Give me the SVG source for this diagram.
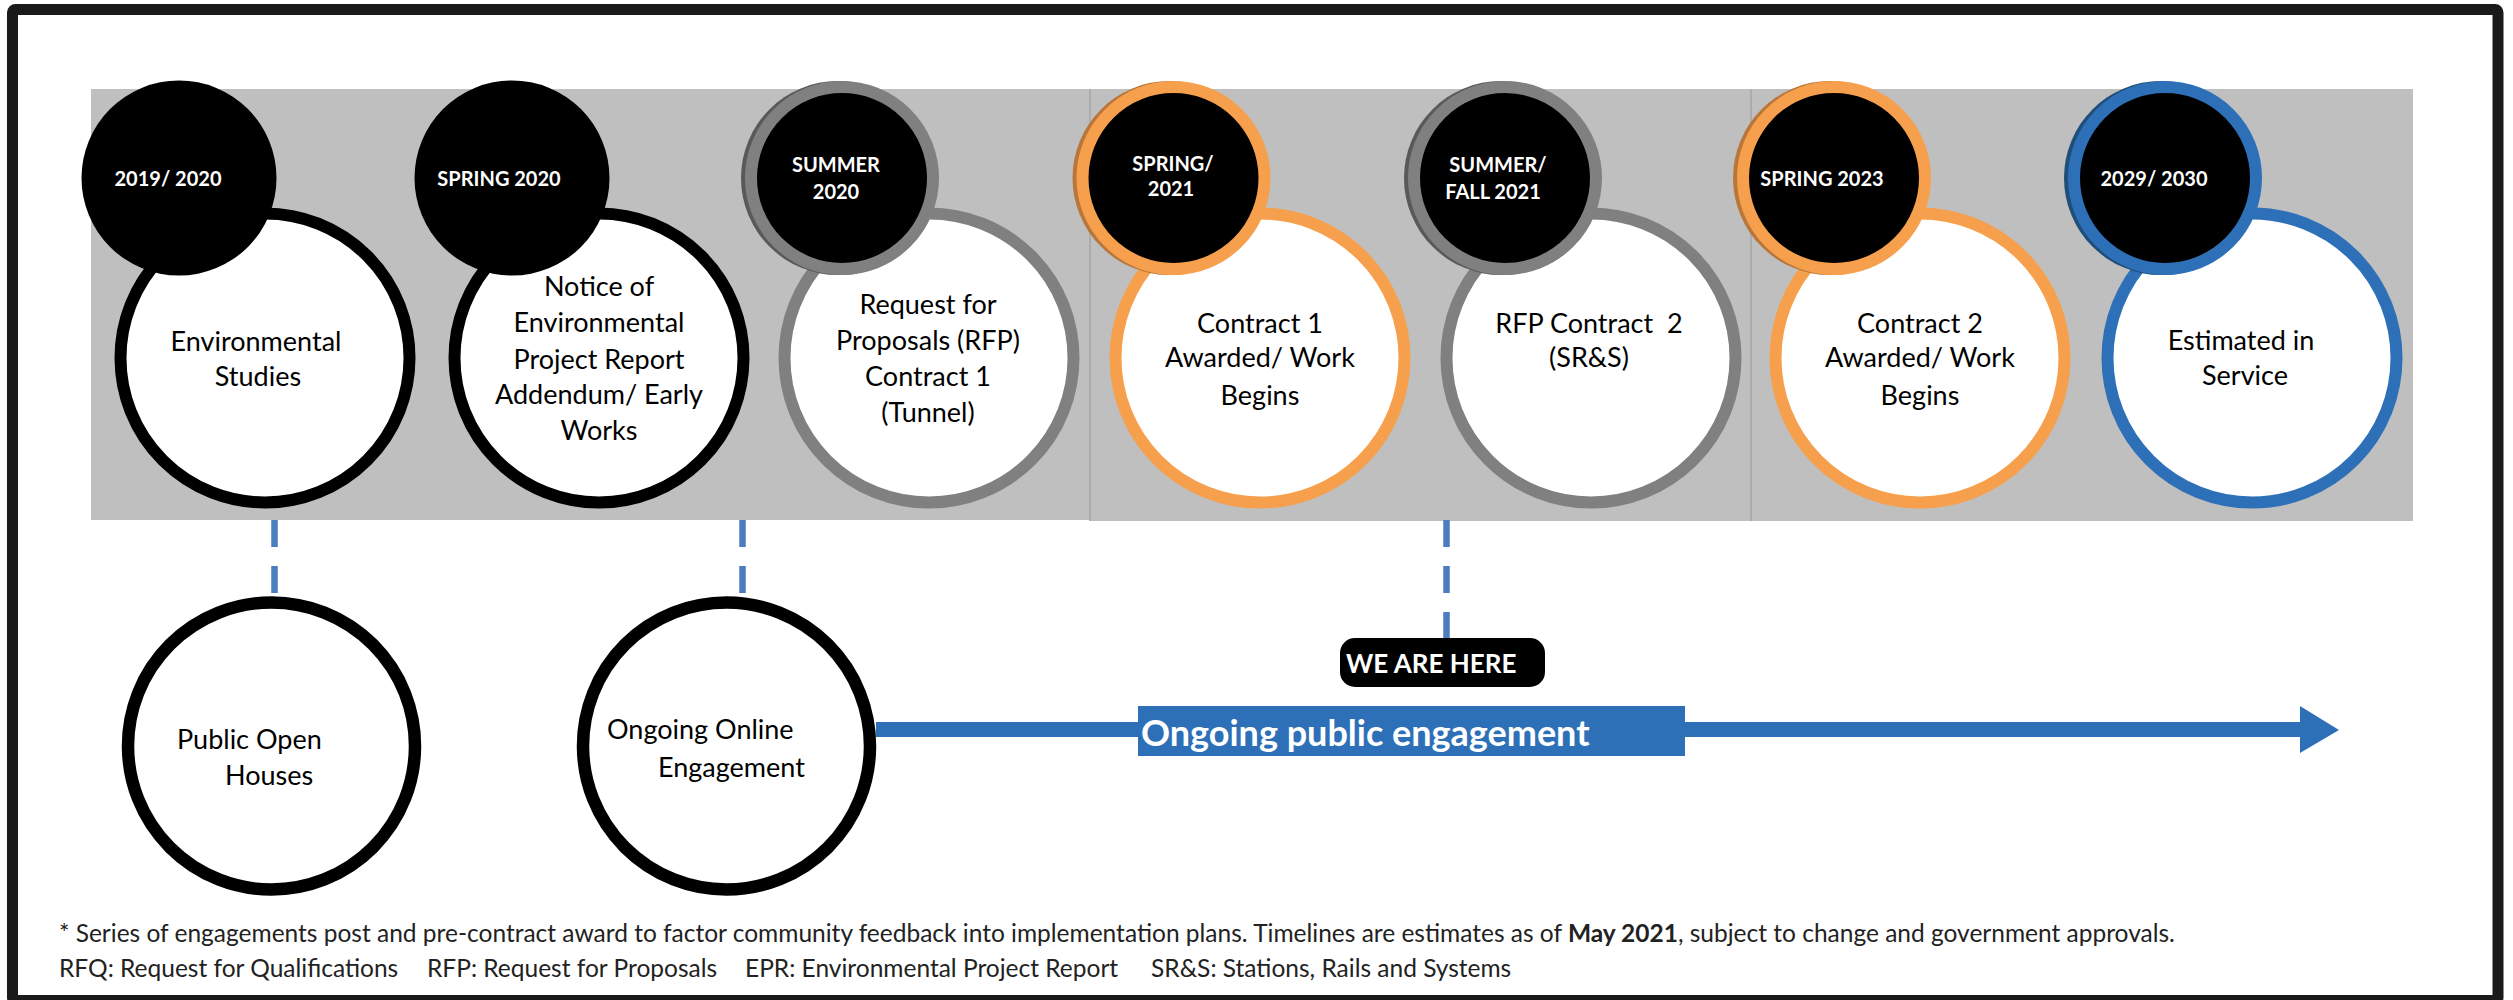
<svg xmlns="http://www.w3.org/2000/svg" width="2513" height="1000" viewBox="0 0 2513 1000">
<defs>
<style>
.band{fill:#BFBFBF}
.div{stroke:#A6A6A6;stroke-width:1.5}
.date{fill:#000}
.dt{font-family:Lato,"Open Sans",sans-serif;font-weight:bold;font-size:20px;fill:#fff;text-anchor:middle}
.big{fill:#fff;stroke-width:12}
.bt{font-family:Lato,"Open Sans",sans-serif;font-size:27px;fill:#000;text-anchor:middle}
.low{fill:#fff;stroke:#000;stroke-width:12.5}
.lt{font-family:Lato,"Open Sans",sans-serif;font-size:27px;fill:#000}
.dash{stroke:#4A7EBF;stroke-width:6.5;stroke-dasharray:27 19;fill:none}
.blk{stroke:#000}
.gry{stroke:#808080}
.org{stroke:#F6A04D}
.blu{stroke:#2E70B8}
.fn{font-family:Lato,"Open Sans",sans-serif;font-size:24.5px;fill:#222}
</style>
</defs>
<rect width="2513" height="1000" fill="#fff"/>
<rect x="12.5" y="9.5" width="2485.5" height="991" rx="3" fill="none" stroke="#1a1a1a" stroke-width="11"/>

<g id="band">
<rect class="band" x="91" y="89" width="999" height="431"/>
<rect class="band" x="1090" y="89" width="661" height="432"/>
<rect class="band" x="1751" y="89" width="662" height="432"/>
<line class="div" x1="1090" y1="89" x2="1090" y2="521"/>
<line class="div" x1="1751" y1="89" x2="1751" y2="521"/>
</g>

<g id="connectors">
<line class="dash" x1="274.5" y1="520" x2="274.5" y2="594"/>
<line class="dash" x1="742.5" y1="520" x2="742.5" y2="594"/>
<line class="dash" x1="1446.5" y1="520" x2="1446.5" y2="639"/>
<rect x="876" y="722" width="1425" height="15" fill="#2E70B8"/>
<polygon points="2300,706 2339,730 2300,753" fill="#2E70B8"/>
</g>

<g id="m1">
<circle class="big blk" cx="265" cy="358" r="144.5"/>
<circle class="date" cx="179" cy="178" r="97.5"/>
<text class="dt" x="168" y="186">2019/ 2020</text>
<text class="bt" x="256" y="351">Environmental</text>
<text class="bt" x="258" y="386">Studies</text>
</g>

<g id="m2">
<circle class="big blk" cx="599" cy="358" r="144.5"/>
<circle class="date" cx="512" cy="178" r="97.5"/>
<text class="dt" x="499" y="186">SPRING 2020</text>
<text class="bt" x="599" y="296">Notice of</text>
<text class="bt" x="599" y="332">Environmental</text>
<text class="bt" x="599" y="369">Project Report</text>
<text class="bt" x="599" y="404">Addendum/ Early</text>
<text class="bt" x="599" y="440">Works</text>
</g>

<g id="m3">
<circle class="big gry" cx="929" cy="358" r="144.5"/>
<circle cx="838" cy="178" r="97" fill="#595959"/>
<circle class="date gry" cx="842" cy="178" r="91" stroke-width="12"/>
<text class="dt" x="836" y="172">SUMMER</text>
<text class="dt" x="836" y="199">2020</text>
<text class="bt" x="928" y="314">Request for</text>
<text class="bt" x="928" y="350">Proposals (RFP)</text>
<text class="bt" x="928" y="386">Contract 1</text>
<text class="bt" x="928" y="422">(Tunnel)</text>
</g>

<g id="m4">
<circle class="big org" cx="1260" cy="358" r="144.5"/>
<circle cx="1169.5" cy="178" r="97" fill="#B8763A"/>
<circle class="date org" cx="1173.5" cy="178" r="91" stroke-width="12"/>
<text class="dt" x="1173" y="171">SPRING/</text>
<text class="dt" x="1171" y="196">2021</text>
<text class="bt" x="1260" y="333">Contract 1</text>
<text class="bt" x="1260" y="367">Awarded/ Work</text>
<text class="bt" x="1260" y="405">Begins</text>
</g>

<g id="m5">
<circle class="big gry" cx="1591" cy="358" r="144.5"/>
<circle cx="1501" cy="178" r="97" fill="#595959"/>
<circle class="date gry" cx="1505" cy="178" r="91" stroke-width="12"/>
<text class="dt" x="1498" y="172">SUMMER/</text>
<text class="dt" x="1493" y="199">FALL 2021</text>
<text class="bt" x="1589" y="333" xml:space="preserve">RFP Contract  2</text>
<text class="bt" x="1589" y="367">(SR&amp;S)</text>
</g>

<g id="m6">
<circle class="big org" cx="1920" cy="358" r="144.5"/>
<circle cx="1830" cy="178" r="97" fill="#B8763A"/>
<circle class="date org" cx="1834" cy="178" r="91" stroke-width="12"/>
<text class="dt" x="1822" y="186">SPRING 2023</text>
<text class="bt" x="1920" y="333">Contract 2</text>
<text class="bt" x="1920" y="367">Awarded/ Work</text>
<text class="bt" x="1920" y="405">Begins</text>
</g>

<g id="m7">
<circle class="big blu" cx="2252" cy="358" r="144.5"/>
<circle cx="2161" cy="178" r="97" fill="#1F4E79"/>
<circle class="date blu" cx="2165" cy="178" r="91" stroke-width="12"/>
<text class="dt" x="2154" y="186">2029/ 2030</text>
<text class="bt" x="2241" y="350">Estimated in</text>
<text class="bt" x="2245" y="385">Service</text>
</g>

<g id="open-houses">
<circle class="low" cx="271.5" cy="746" r="143.5"/>
<text class="lt" x="177" y="749">Public Open</text>
<text class="lt" x="225" y="785">Houses</text>
</g>

<g id="online">
<circle class="low" cx="726.5" cy="746" r="143.5"/>
<text class="lt" x="607" y="739">Ongoing Online</text>
<text class="lt" x="658" y="777">Engagement</text>
</g>

<g id="we-are-here">
<rect x="1340" y="638" width="205" height="49" rx="15" fill="#000"/>
<text x="1346" y="673" font-family="Lato,'Open Sans',sans-serif" font-weight="bold" font-size="26" fill="#fff">WE ARE HERE</text>
</g>

<g id="engagement-label">
<rect x="1138" y="706" width="547" height="50" fill="#2E70B8"/>
<text x="1141" y="746" font-family="Lato,'Open Sans',sans-serif" font-weight="bold" font-size="36" fill="#fff">Ongoing public engagement</text>
</g>

<g id="footnote">
<text class="fn" x="59" y="942" font-size="24.2">* Series of engagements post and pre-contract award to factor community feedback into implementation plans. Timelines are estimates as of <tspan font-weight="bold">May 2021</tspan>, subject to change and government approvals.</text>
<text class="fn" y="977"><tspan x="59">RFQ: Request for Qualifications</tspan><tspan x="427">RFP: Request for Proposals</tspan><tspan x="745">EPR: Environmental Project Report</tspan><tspan x="1151">SR&amp;S: Stations, Rails and Systems</tspan></text>
</g>
</svg>
